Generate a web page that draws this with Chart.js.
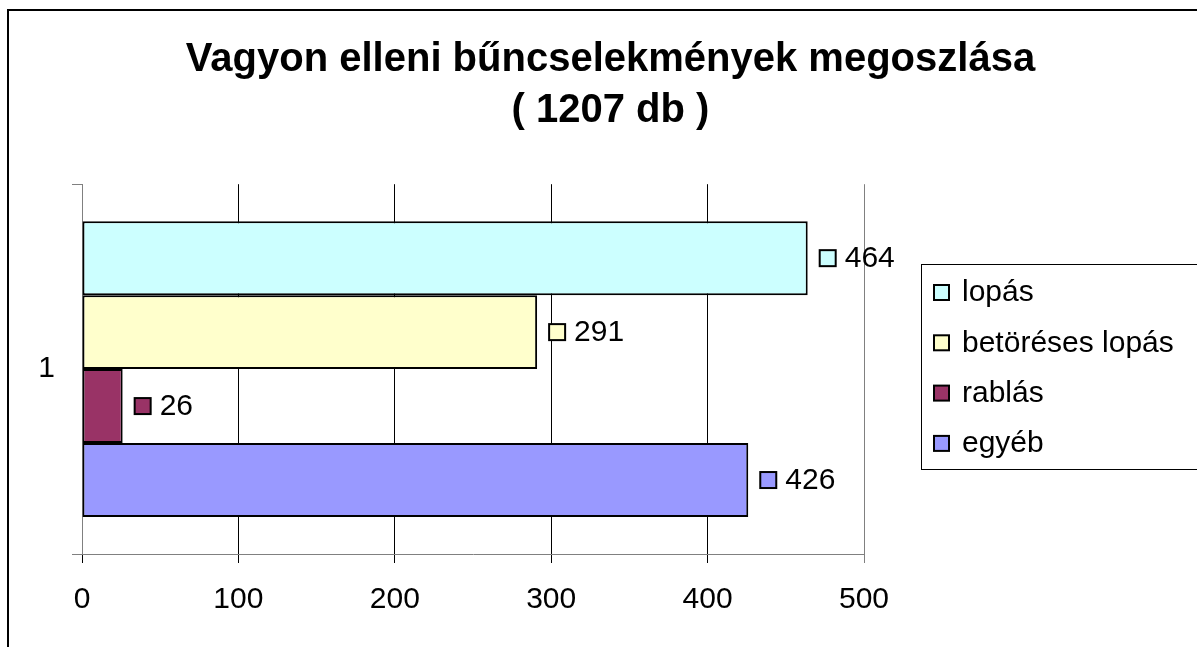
<!DOCTYPE html>
<html>
<head>
<meta charset="utf-8">
<script src="https://cdn.jsdelivr.net/npm/chart.js@4/dist/chart.umd.min.js"></script>
<style>
  html, body { margin:0; padding:0; background:#fff; }
  #wrap { width:1197px; height:647px; }
</style>
</head>
<body>
<div id="wrap"><canvas id="chart" width="1197" height="647"></canvas></div>
<script>
// data
const categories = ['1'];
const seriesNames = ['lopás', 'betöréses lopás', 'rablás', 'egyéb'];
const seriesValues = [464, 291, 26, 426];
const seriesColors = ['#CCFFFF', '#FFFFCC', '#993366', '#9999FF'];
const xTicks = [0, 100, 200, 300, 400, 500];
const titleLines = ['Vagyon elleni bűncselekmények megoszlása', '( 1207 db )'];

const FONT = "'Liberation Sans', Arial, sans-serif";

// outer frame of the chart object
const framePlugin = {
  id: 'frame',
  beforeDraw(chart) {
    const ctx = chart.ctx;
    ctx.save();
    ctx.strokeStyle = '#000';
    ctx.lineWidth = 2;
    ctx.strokeRect(8, 10, chart.width + 20, chart.height + 20);
    ctx.restore();
  }
};

// little colour key + value next to each bar end
const valueLabels = {
  id: 'valueLabels',
  afterDatasetsDraw(chart) {
    const ctx = chart.ctx;
    ctx.save();
    ctx.font = '30px ' + FONT;
    ctx.textBaseline = 'middle';
    chart.data.datasets.forEach((ds, i) => {
      const meta = chart.getDatasetMeta(i);
      meta.data.forEach((bar, j) => {
        const x = bar.x, y = bar.y;
        ctx.fillStyle = ds.backgroundColor;
        ctx.fillRect(x + 12, y - 8, 16, 16);
        ctx.strokeStyle = '#000';
        ctx.lineWidth = 2;
        ctx.strokeRect(x + 12, y - 8, 16, 16);
        ctx.fillStyle = '#000';
        ctx.fillText(String(ds.data[j]), x + 37, y + 1);
      });
    });
    ctx.restore();
  }
};

// boxed legend on the right
const boxLegend = {
  id: 'boxLegend',
  afterDraw(chart) {
    const ctx = chart.ctx;
    const left = 921, top = 264, bottom = 469;
    ctx.save();
    ctx.strokeStyle = '#000';
    ctx.lineWidth = 1;
    ctx.strokeRect(left + 0.5, top + 0.5, chart.width, bottom - top);
    ctx.font = '30px ' + FONT;
    ctx.textBaseline = 'middle';
    chart.data.datasets.forEach((ds, i) => {
      const y = 292 + i * 50.3;
      ctx.fillStyle = ds.backgroundColor;
      ctx.fillRect(934, y - 7, 15, 15);
      ctx.strokeStyle = '#000';
      ctx.lineWidth = 2;
      ctx.strokeRect(934, y - 7, 15, 15);
      ctx.fillStyle = '#000';
      ctx.fillText(ds.label, 962, y + 1);
    });
    ctx.restore();
  }
};

const datasets = seriesNames.map((name, i) => ({
  label: name,
  data: [seriesValues[i]],
  backgroundColor: seriesColors[i],
  borderColor: '#000',
  borderWidth: 2,
  borderSkipped: false,
  categoryPercentage: 0.8,
  barPercentage: 1.0
}));

new Chart(document.getElementById('chart'), {
  type: 'bar',
  data: { labels: categories, datasets },
  options: {
    indexAxis: 'y',
    responsive: false,
    animation: false,
    // left padding pushes the title's centre over the frame's centre
    layout: { padding: { left: 24, right: 0, top: 0, bottom: 0 } },
    plugins: {
      legend: { display: false },
      tooltip: { enabled: false },
      title: {
        display: true,
        text: titleLines,
        color: '#000',
        font: { family: FONT, size: 40, weight: 'bold', lineHeight: 1.29 },
        padding: { top: 34, bottom: 47 }
      }
    },
    scales: {
      x: {
        min: 0,
        max: 500,
        afterBuildTicks(scale) { scale.ticks = xTicks.map(v => ({ value: v })); },
        afterFit(scale) { scale.height = 647 - 554; },
        grid: {
          color: ctx => ctx.index === xTicks.length - 1 ? '#808080' : '#000',
          lineWidth: 1,
          tickLength: 9
        },
        border: { color: '#808080', width: 1 },
        ticks: { color: '#000', font: { family: FONT, size: 30 }, padding: 19 }
      },
      y: {
        afterFit(scale) { scale.width = 82 - 24; },
        grid: { offset: true, drawOnChartArea: false, color: '#808080', tickLength: 10 },
        border: { color: '#808080', width: 1 },
        ticks: { color: '#000', font: { family: FONT, size: 30 }, padding: 17 }
      },
      // reserves the space the boxed legend sits in
      legendSpace: {
        type: 'linear',
        position: 'right',
        grid: { display: false },
        border: { display: false },
        ticks: { display: false },
        afterFit(scale) { scale.width = 1197 - 864; }
      }
    }
  },
  plugins: [framePlugin, valueLabels, boxLegend]
});
</script>
</body>
</html>
